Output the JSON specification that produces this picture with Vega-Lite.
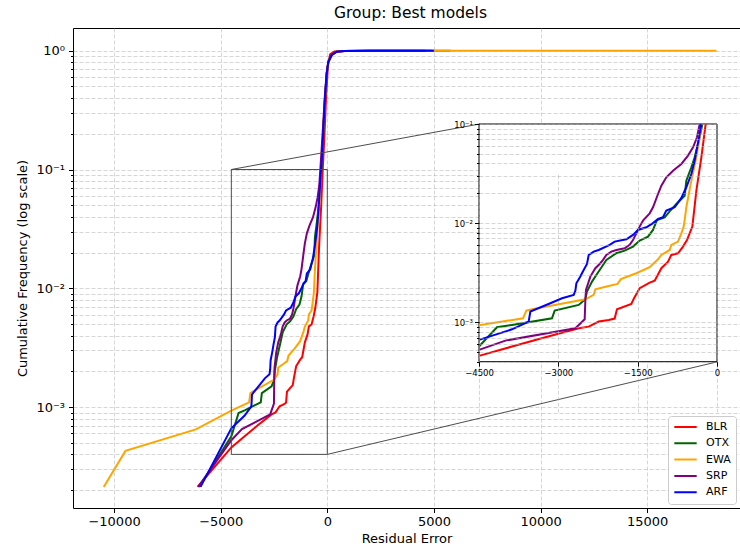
{
  "$schema": "https://vega.github.io/schema/vega-lite/v6.json",
  "usermeta": {"embedOptions": {"actions": false}},
  "width": 667,
  "height": 480,
  "autosize": {"type": "none"},
  "padding": {"left": 73, "top": 28, "right": 0, "bottom": 46},
  "background": "white",
  "title": {"text": "Group: Best models", "fontSize": 15.5, "fontWeight": "normal", "font": "DejaVu Sans", "color": "black", "offset": 7, "anchor": "middle", "dx": 4},
  "config": {
    "font": "DejaVu Sans",
    "view": {"stroke": "black", "strokeWidth": 1},
    "axis": {
      "labelColor": "black", "titleColor": "black", "tickColor": "black", "domain": false,
      "gridColor": "#b0b0b0", "gridOpacity": 0.65, "gridWidth": 0.8, "gridDash": [4, 2],
      "labelFont": "DejaVu Sans", "titleFont": "DejaVu Sans", "titleFontWeight": "normal"
    },
    "legend": {"labelFont": "DejaVu Sans"}
  },
  "datasets": {
    "curves": [
      {"model": "BLR", "x": -6085, "y": 0.000213},
      {"model": "BLR", "x": -4500, "y": 0.000458},
      {"model": "BLR", "x": -3876, "y": 0.000569},
      {"model": "BLR", "x": -3246, "y": 0.000706},
      {"model": "BLR", "x": -2615, "y": 0.000869},
      {"model": "BLR", "x": -2426, "y": 0.000903},
      {"model": "BLR", "x": -2237, "y": 0.001016},
      {"model": "BLR", "x": -2048, "y": 0.001056},
      {"model": "BLR", "x": -1935, "y": 0.001089},
      {"model": "BLR", "x": -1891, "y": 0.001352},
      {"model": "BLR", "x": -1620, "y": 0.001531},
      {"model": "BLR", "x": -1569, "y": 0.001746},
      {"model": "BLR", "x": -1462, "y": 0.002203},
      {"model": "BLR", "x": -1273, "y": 0.00251},
      {"model": "BLR", "x": -1178, "y": 0.00263},
      {"model": "BLR", "x": -1052, "y": 0.00351},
      {"model": "BLR", "x": -926, "y": 0.00409},
      {"model": "BLR", "x": -863, "y": 0.00478},
      {"model": "BLR", "x": -737, "y": 0.00496},
      {"model": "BLR", "x": -643, "y": 0.0058},
      {"model": "BLR", "x": -567, "y": 0.00676},
      {"model": "BLR", "x": -517, "y": 0.00789},
      {"model": "BLR", "x": -466, "y": 0.00922},
      {"model": "BLR", "x": -390, "y": 0.0213},
      {"model": "BLR", "x": -296, "y": 0.0461},
      {"model": "BLR", "x": -214, "y": 0.1},
      {"model": "BLR", "x": -130, "y": 0.2},
      {"model": "BLR", "x": -60, "y": 0.4},
      {"model": "BLR", "x": 30, "y": 0.75},
      {"model": "BLR", "x": 130, "y": 0.93},
      {"model": "BLR", "x": 330, "y": 0.985},
      {"model": "BLR", "x": 900, "y": 0.996},
      {"model": "BLR", "x": 2000, "y": 0.999},
      {"model": "BLR", "x": 5780, "y": 1.0},
      {"model": "OTX", "x": -6010, "y": 0.000213},
      {"model": "OTX", "x": -4500, "y": 0.000569},
      {"model": "OTX", "x": -4160, "y": 0.000891},
      {"model": "OTX", "x": -3876, "y": 0.00094},
      {"model": "OTX", "x": -3120, "y": 0.001097},
      {"model": "OTX", "x": -3069, "y": 0.001311},
      {"model": "OTX", "x": -2615, "y": 0.001495},
      {"model": "OTX", "x": -2489, "y": 0.001705},
      {"model": "OTX", "x": -2458, "y": 0.00204},
      {"model": "OTX", "x": -2363, "y": 0.00257},
      {"model": "OTX", "x": -2269, "y": 0.00307},
      {"model": "OTX", "x": -2218, "y": 0.00337},
      {"model": "OTX", "x": -2092, "y": 0.00426},
      {"model": "OTX", "x": -1903, "y": 0.00497},
      {"model": "OTX", "x": -1746, "y": 0.00528},
      {"model": "OTX", "x": -1588, "y": 0.0058},
      {"model": "OTX", "x": -1462, "y": 0.00667},
      {"model": "OTX", "x": -1305, "y": 0.00731},
      {"model": "OTX", "x": -1210, "y": 0.00853},
      {"model": "OTX", "x": -1134, "y": 0.01076},
      {"model": "OTX", "x": -989, "y": 0.01145},
      {"model": "OTX", "x": -895, "y": 0.01316},
      {"model": "OTX", "x": -769, "y": 0.0156},
      {"model": "OTX", "x": -611, "y": 0.0189},
      {"model": "OTX", "x": -580, "y": 0.0268},
      {"model": "OTX", "x": -485, "y": 0.0366},
      {"model": "OTX", "x": -422, "y": 0.0461},
      {"model": "OTX", "x": -327, "y": 0.0734},
      {"model": "OTX", "x": -277, "y": 0.1},
      {"model": "OTX", "x": -190, "y": 0.2},
      {"model": "OTX", "x": -105, "y": 0.4},
      {"model": "OTX", "x": -25, "y": 0.645},
      {"model": "OTX", "x": 50, "y": 0.81},
      {"model": "OTX", "x": 210, "y": 0.92},
      {"model": "OTX", "x": 440, "y": 0.98},
      {"model": "OTX", "x": 800, "y": 0.995},
      {"model": "OTX", "x": 2000, "y": 0.999},
      {"model": "OTX", "x": 4900, "y": 1.0},
      {"model": "EWA", "x": -10484, "y": 0.000213},
      {"model": "EWA", "x": -9465, "y": 0.000428},
      {"model": "EWA", "x": -6164, "y": 0.000649},
      {"model": "EWA", "x": -4500, "y": 0.000933},
      {"model": "EWA", "x": -3668, "y": 0.001096},
      {"model": "EWA", "x": -3605, "y": 0.001312},
      {"model": "EWA", "x": -3498, "y": 0.001353},
      {"model": "EWA", "x": -2489, "y": 0.001705},
      {"model": "EWA", "x": -2332, "y": 0.001888},
      {"model": "EWA", "x": -2300, "y": 0.002153},
      {"model": "EWA", "x": -2048, "y": 0.00232},
      {"model": "EWA", "x": -1880, "y": 0.00244},
      {"model": "EWA", "x": -1817, "y": 0.00272},
      {"model": "EWA", "x": -1525, "y": 0.00312},
      {"model": "EWA", "x": -1273, "y": 0.00359},
      {"model": "EWA", "x": -1115, "y": 0.00432},
      {"model": "EWA", "x": -1052, "y": 0.00477},
      {"model": "EWA", "x": -895, "y": 0.00536},
      {"model": "EWA", "x": -863, "y": 0.00603},
      {"model": "EWA", "x": -737, "y": 0.00651},
      {"model": "EWA", "x": -674, "y": 0.00789},
      {"model": "EWA", "x": -630, "y": 0.00922},
      {"model": "EWA", "x": -611, "y": 0.01076},
      {"model": "EWA", "x": -580, "y": 0.01445},
      {"model": "EWA", "x": -485, "y": 0.0268},
      {"model": "EWA", "x": -390, "y": 0.0461},
      {"model": "EWA", "x": -327, "y": 0.0734},
      {"model": "EWA", "x": -296, "y": 0.1},
      {"model": "EWA", "x": -200, "y": 0.2},
      {"model": "EWA", "x": -110, "y": 0.4},
      {"model": "EWA", "x": -30, "y": 0.64},
      {"model": "EWA", "x": 50, "y": 0.8},
      {"model": "EWA", "x": 210, "y": 0.92},
      {"model": "EWA", "x": 440, "y": 0.98},
      {"model": "EWA", "x": 800, "y": 0.995},
      {"model": "EWA", "x": 2000, "y": 0.999},
      {"model": "EWA", "x": 5000, "y": 0.9998},
      {"model": "EWA", "x": 18250, "y": 1.0},
      {"model": "SRP", "x": -6050, "y": 0.000213},
      {"model": "SRP", "x": -4500, "y": 0.000526},
      {"model": "SRP", "x": -4002, "y": 0.000653},
      {"model": "SRP", "x": -2678, "y": 0.000869},
      {"model": "SRP", "x": -2502, "y": 0.001071},
      {"model": "SRP", "x": -2489, "y": 0.001679},
      {"model": "SRP", "x": -2477, "y": 0.00212},
      {"model": "SRP", "x": -2395, "y": 0.00289},
      {"model": "SRP", "x": -2300, "y": 0.00351},
      {"model": "SRP", "x": -2206, "y": 0.00394},
      {"model": "SRP", "x": -2155, "y": 0.00426},
      {"model": "SRP", "x": -2092, "y": 0.00478},
      {"model": "SRP", "x": -1998, "y": 0.00516},
      {"model": "SRP", "x": -1903, "y": 0.00536},
      {"model": "SRP", "x": -1746, "y": 0.00557},
      {"model": "SRP", "x": -1651, "y": 0.00603},
      {"model": "SRP", "x": -1588, "y": 0.00676},
      {"model": "SRP", "x": -1525, "y": 0.00789},
      {"model": "SRP", "x": -1462, "y": 0.00922},
      {"model": "SRP", "x": -1399, "y": 0.01059},
      {"model": "SRP", "x": -1273, "y": 0.01256},
      {"model": "SRP", "x": -1210, "y": 0.01445},
      {"model": "SRP", "x": -1115, "y": 0.01968},
      {"model": "SRP", "x": -1052, "y": 0.0239},
      {"model": "SRP", "x": -958, "y": 0.029},
      {"model": "SRP", "x": -832, "y": 0.0338},
      {"model": "SRP", "x": -674, "y": 0.0395},
      {"model": "SRP", "x": -548, "y": 0.048},
      {"model": "SRP", "x": -453, "y": 0.0582},
      {"model": "SRP", "x": -378, "y": 0.0734},
      {"model": "SRP", "x": -327, "y": 0.1},
      {"model": "SRP", "x": -220, "y": 0.2},
      {"model": "SRP", "x": -120, "y": 0.4},
      {"model": "SRP", "x": -35, "y": 0.64},
      {"model": "SRP", "x": 45, "y": 0.8},
      {"model": "SRP", "x": 205, "y": 0.92},
      {"model": "SRP", "x": 440, "y": 0.98},
      {"model": "SRP", "x": 800, "y": 0.995},
      {"model": "SRP", "x": 2000, "y": 0.999},
      {"model": "SRP", "x": 4600, "y": 1.0},
      {"model": "ARF", "x": -5944, "y": 0.000213},
      {"model": "ARF", "x": -4500, "y": 0.000664},
      {"model": "ARF", "x": -3876, "y": 0.000849},
      {"model": "ARF", "x": -3561, "y": 0.001016},
      {"model": "ARF", "x": -3529, "y": 0.001282},
      {"model": "ARF", "x": -3151, "y": 0.001556},
      {"model": "ARF", "x": -2930, "y": 0.001746},
      {"model": "ARF", "x": -2710, "y": 0.001888},
      {"model": "ARF", "x": -2678, "y": 0.002085},
      {"model": "ARF", "x": -2659, "y": 0.00247},
      {"model": "ARF", "x": -2584, "y": 0.00289},
      {"model": "ARF", "x": -2521, "y": 0.00337},
      {"model": "ARF", "x": -2458, "y": 0.00387},
      {"model": "ARF", "x": -2426, "y": 0.00477},
      {"model": "ARF", "x": -2332, "y": 0.00516},
      {"model": "ARF", "x": -2237, "y": 0.00536},
      {"model": "ARF", "x": -2029, "y": 0.00603},
      {"model": "ARF", "x": -1935, "y": 0.00651},
      {"model": "ARF", "x": -1714, "y": 0.00687},
      {"model": "ARF", "x": -1588, "y": 0.0076},
      {"model": "ARF", "x": -1494, "y": 0.00853},
      {"model": "ARF", "x": -1336, "y": 0.00908},
      {"model": "ARF", "x": -1210, "y": 0.01},
      {"model": "ARF", "x": -1115, "y": 0.01102},
      {"model": "ARF", "x": -1021, "y": 0.01145},
      {"model": "ARF", "x": -958, "y": 0.01337},
      {"model": "ARF", "x": -800, "y": 0.01445},
      {"model": "ARF", "x": -674, "y": 0.01795},
      {"model": "ARF", "x": -580, "y": 0.023},
      {"model": "ARF", "x": -485, "y": 0.0313},
      {"model": "ARF", "x": -422, "y": 0.0427},
      {"model": "ARF", "x": -340, "y": 0.0734},
      {"model": "ARF", "x": -296, "y": 0.1},
      {"model": "ARF", "x": -263, "y": 0.113},
      {"model": "ARF", "x": -188, "y": 0.215},
      {"model": "ARF", "x": -108, "y": 0.41},
      {"model": "ARF", "x": -28, "y": 0.645},
      {"model": "ARF", "x": 47, "y": 0.808},
      {"model": "ARF", "x": 207, "y": 0.92},
      {"model": "ARF", "x": 441, "y": 0.98},
      {"model": "ARF", "x": 751, "y": 0.995},
      {"model": "ARF", "x": 2000, "y": 0.999},
      {"model": "ARF", "x": 5000, "y": 1.0}
    ]
  },
  "layer": [
    {
      "layer": [
        {
          "data": {"name": "curves"},
          "mark": {"type": "line", "strokeWidth": 2, "interpolate": "linear"},
          "encoding": {
            "x": {"field": "x", "type": "quantitative",
              "scale": {"domain": [-11925, 19353], "nice": false, "zero": false},
              "axis": {"values": [-10000, -5000, 0, 5000, 10000, 15000], "format": "d", "title": "Residual Error",
                "labelFontSize": 13, "titleFontSize": 13, "tickSize": 4.5, "labelPadding": 3, "titlePadding": 4, "grid": true, "labelFlush": false}},
            "y": {"field": "y", "type": "quantitative",
              "scale": {"type": "log", "domain": [0.0001415, 1.553], "nice": false},
              "axis": {"values": [0.0002,0.0003,0.0004,0.0005,0.0006,0.0007,0.0008,0.0009,0.001,0.002,0.003,0.004,0.005,0.006,0.007,0.008,0.009,0.01,0.02,0.03,0.04,0.05,0.06,0.07,0.08,0.09,0.1,0.2,0.3,0.4,0.5,0.6,0.7,0.8,0.9,1],
                "labelExpr": "abs(log(datum.value)/LN10 - round(log(datum.value)/LN10)) > 0.001 ? '' : round(log(datum.value)/LN10) == 0 ? '10⁰' : round(log(datum.value)/LN10) == -1 ? '10⁻¹' : round(log(datum.value)/LN10) == -2 ? '10⁻²' : '10⁻³'",
                "tickSize": {"condition": {"test": "abs(log(datum.value)/LN10 - round(log(datum.value)/LN10)) < 0.001", "value": 4.5}, "value": 2.5},
                "title": "Cumulative Frequency (log scale)", "labelFontSize": 13, "titleFontSize": 13, "labelPadding": 4, "titlePadding": 6, "grid": true, "labelFlush": false}},
            "color": {"field": "model", "type": "nominal",
              "scale": {"domain": ["BLR", "OTX", "EWA", "SRP", "ARF"], "range": ["#ff0000", "#006400", "#ffa500", "#800080", "#0000ff"]},
              "legend": {"title": null, "orient": "bottom-right", "offset": 4, "symbolType": "stroke", "symbolStrokeWidth": 2, "symbolSize": 500,
                "clipHeight": 12, "rowPadding": 4.3, "labelFontSize": 11, "labelColor": "black", "labelOffset": 8,
                "fillColor": "white", "strokeColor": "#cccccc", "padding": 5, "cornerRadius": 3}}
          }
        },
        {
          "data": {"values": [{}]},
          "mark": {"type": "rect", "fill": null, "fillOpacity": 0, "stroke": "#4d4d4d", "strokeWidth": 1},
          "encoding": {
            "x": {"datum": -4500, "type": "quantitative"}, "x2": {"datum": 0},
            "y": {"datum": 0.0004, "type": "quantitative"}, "y2": {"datum": 0.1}
          }
        },
        {
          "data": {"values": [{}]},
          "mark": {"type": "rule", "stroke": "#4d4d4d", "strokeWidth": 1},
          "encoding": {
            "x": {"datum": -4500, "type": "quantitative"}, "x2": {"datum": 7136},
            "y": {"datum": 0.1, "type": "quantitative"}, "y2": {"datum": 0.2415}
          }
        },
        {
          "data": {"values": [{}]},
          "mark": {"type": "rule", "stroke": "#4d4d4d", "strokeWidth": 1},
          "encoding": {
            "x": {"datum": 0, "type": "quantitative"}, "x2": {"datum": 18310},
            "y": {"datum": 0.0004, "type": "quantitative"}, "y2": {"datum": 0.00241}
          }
        }
      ]
    },
    {
      "layer": [
        {
          "data": {"values": [{}]},
          "mark": {"type": "rect", "fill": "white", "stroke": "black", "strokeWidth": 1},
          "encoding": {
            "x": {"datum": -4500, "type": "quantitative",
              "scale": {"domain": [-4500, 0], "range": [406, 644], "nice": false, "zero": false},
              "axis": {"orient": "bottom", "offset": -146.3, "values": [-4500, -3000, -1500, 0], "format": "d", "title": null,
                "labelFontSize": 8.5, "tickSize": 4.5, "labelPadding": 2, "grid": true, "zindex": 1, "labelFlush": false}},
            "x2": {"datum": 0},
            "y": {"datum": 0.0004, "type": "quantitative",
              "scale": {"type": "log", "domain": [0.0004, 0.1], "range": [333.7, 96], "nice": false},
              "axis": {"orient": "left", "offset": -406, "values": [0.0004,0.0005,0.0006,0.0007,0.0008,0.0009,0.001,0.002,0.003,0.004,0.005,0.006,0.007,0.008,0.009,0.01,0.02,0.03,0.04,0.05,0.06,0.07,0.08,0.09,0.1],
                "labelExpr": "abs(log(datum.value)/LN10 - round(log(datum.value)/LN10)) > 0.001 ? '' : round(log(datum.value)/LN10) == -1 ? '10⁻¹' : round(log(datum.value)/LN10) == -2 ? '10⁻²' : '10⁻³'",
                "tickSize": {"condition": {"test": "abs(log(datum.value)/LN10 - round(log(datum.value)/LN10)) < 0.001", "value": 4.5}, "value": 2.5},
                "title": null, "labelFontSize": 8.5, "labelPadding": 2, "grid": true, "zindex": 1, "labelFlush": false}},
            "y2": {"datum": 0.1}
          }
        },
        {
          "data": {"name": "curves"},
          "transform": [{"filter": "datum.x >= -4500 && datum.y <= 0.1"}],
          "mark": {"type": "line", "strokeWidth": 2, "interpolate": "linear"},
          "encoding": {
            "x": {"field": "x", "type": "quantitative"},
            "y": {"field": "y", "type": "quantitative"},
            "color": {"field": "model", "type": "nominal", "legend": null}
          }
        }
      ]
    }
  ],
  "resolve": {"scale": {"x": "independent", "y": "independent"}}
}
